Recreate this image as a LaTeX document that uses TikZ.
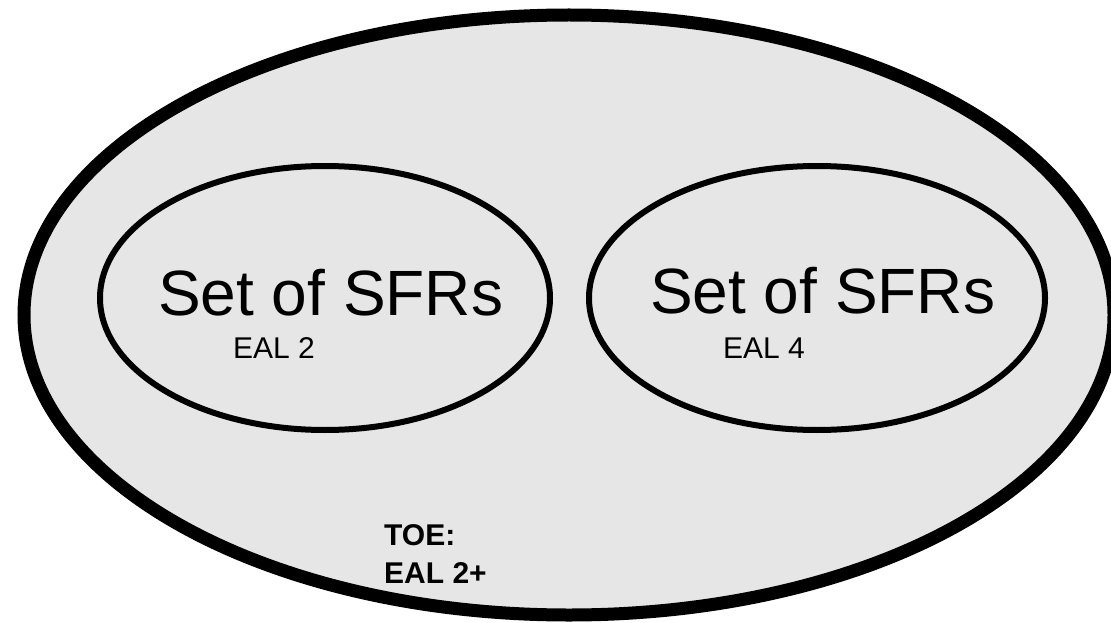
\documentclass[tikz,border=0pt]{standalone}
\usepackage{fontspec}
\setmainfont{Liberation Sans}
\definecolor{setfill}{RGB}{230,230,230}
\tikzset{
  outerset/.style={draw=black, fill=setfill, line width=13pt},
  innerset/.style={draw=black, line width=6pt},
  bigtext/.style={anchor=base west, inner sep=0pt, font=\fontsize{64}{64}\selectfont},
  smalltext/.style={anchor=base west, inner sep=0pt, font=\fontsize{30}{30}\selectfont},
  toetext/.style={anchor=base west, inner sep=0pt, align=left, font=\fontsize{30}{38}\selectfont\bfseries},
}
\begin{document}
\begin{tikzpicture}[x=1pt, y=-1pt]
  \useasboundingbox (0,0) rectangle (1111,623);
  \clip (0,0) rectangle (1111,623);
  % the enclosing TOE set
  \path[outerset] (569,315) ellipse [x radius=545, y radius=300];
  % two component sets
  \path[innerset] (325,298) ellipse [x radius=225, y radius=132];
  \path[innerset] (817,298) ellipse [x radius=228, y radius=132];
  % labels
  \node[bigtext] (sfrL) at (158,315) {Set of SFRs};
  \node[smalltext] (ealL) at (233,358) {EAL 2};
  \node[bigtext] (sfrR) at (650,313) {Set of SFRs};
  \node[smalltext] (ealR) at (723,358) {EAL 4};
  % base anchor of a two-line node sits on its last line
  \node[toetext] (toe) at (384,583) {TOE:\\EAL 2+};
\end{tikzpicture}
\end{document}
